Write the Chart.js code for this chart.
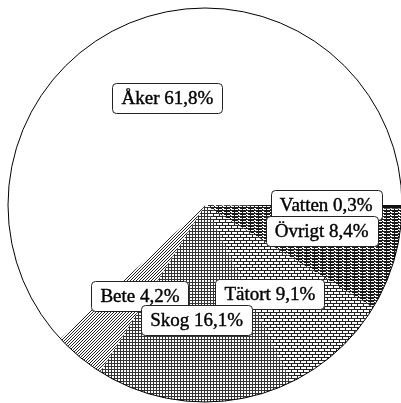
<!DOCTYPE html>
<html>
<head>
<meta charset="utf-8">
<script src="https://cdn.jsdelivr.net/npm/chart.js@4"></script>
<style>
  html, body { margin: 0; padding: 0; background: #fff; overflow: hidden; width: 401px; height: 403px; }
  #landChart { position: absolute; left: 0; top: 0; }
</style>
</head>
<body>
<canvas id="landChart" width="410" height="410"></canvas>
<script>
// Markanvändning, andel av total areal (%)
const categories = ['Vatten', 'Övrigt', 'Tätort', 'Skog', 'Bete', 'Åker'];
const shares = [0.3, 8.4, 9.1, 16.1, 4.2, 61.8];

// label nudges in px from the slice mid point, and the order they are painted
const labelShift = [[7, -1], [7, -6], [-12, 4], [-2, 1], [8, 3], [4, -1]];
const labelOrder = [5, 0, 1, 2, 4, 3];

const canvas = document.getElementById('landChart');
const ctx = canvas.getContext('2d');

// small repeating tiles to imitate the printed hatch fills
function tile(w, h, paint) {
    const c = document.createElement('canvas');
    c.width = w;
    c.height = h;
    const g = c.getContext('2d');
    g.fillStyle = '#fff';
    g.fillRect(0, 0, w, h);
    g.fillStyle = '#000';
    paint(g);
    return ctx.createPattern(c, 'repeat');
}

const fills = [
    '#111',
    // Övrigt: dense horizontal lines
    tile(8, 3, g => {
        g.fillStyle = '#1a1a1a';
        g.fillRect(0, 0, 8, 1);
        g.fillRect(0, 1, 6, 1);
        g.fillRect(2, 2, 1, 1);
        g.fillRect(6, 2, 1, 1);
    }),
    // Tätort: brick
    tile(6, 6, g => {
        g.fillStyle = '#222';
        g.fillRect(0, 0, 6, 1);
        g.fillRect(0, 1, 1, 2);
        g.fillRect(0, 3, 6, 1);
        g.fillRect(3, 4, 1, 2);
    }),
    // Skog: fine grid
    tile(3, 3, g => {
        g.fillStyle = '#333';
        g.fillRect(0, 0, 3, 1);
        g.fillRect(0, 0, 1, 3);
    }),
    // Bete: diagonal lines
    tile(3, 3, g => {
        g.fillStyle = '#222';
        g.fillRect(2, 0, 1, 1);
        g.fillRect(1, 1, 1, 1);
        g.fillRect(0, 2, 1, 1);
    }),
    '#fff'
];

const pieLabels = {
    id: 'pieLabels',
    afterDatasetsDraw(chart) {
        const c = chart.ctx;
        const arcs = chart.getDatasetMeta(0).data;
        const first = arcs[0].getProps(['x', 'y', 'outerRadius'], true);

        // outer rim
        c.save();
        c.beginPath();
        c.arc(first.x, first.y, first.outerRadius, 0, Math.PI * 2);
        c.lineWidth = 1;
        c.strokeStyle = '#000';
        c.stroke();

        c.font = '19px "Liberation Serif", "DejaVu Serif", serif';
        c.textAlign = 'center';
        c.textBaseline = 'middle';
        labelOrder.forEach(i => {
            const a = arcs[i].getProps(['x', 'y', 'startAngle', 'endAngle', 'outerRadius'], true);
            const mid = (a.startAngle + a.endAngle) / 2;
            const r = a.outerRadius * 0.58;
            const px = a.x + Math.cos(mid) * r + labelShift[i][0];
            const py = a.y + Math.sin(mid) * r + labelShift[i][1];
            const text = categories[i] + ' ' + shares[i].toFixed(1).replace('.', ',') + '%';
            const w = c.measureText(text).width + 18;
            const h = 30;
            c.beginPath();
            c.roundRect(Math.round(px - w / 2) + 0.5, Math.round(py - h / 2) + 0.5, Math.round(w), h, 4);
            c.fillStyle = '#fff';
            c.fill();
            c.lineWidth = 1;
            c.strokeStyle = '#222';
            c.stroke();
            // slightly heavier strokes, like the printed type
            c.fillStyle = '#000';
            c.lineWidth = 0.4;
            c.strokeStyle = '#000';
            c.fillText(text, px, py + 1);
            c.strokeText(text, px, py + 1);
        });
        c.restore();
    }
};

new Chart(canvas, {
    type: 'pie',
    data: {
        labels: categories,
        datasets: [{
            data: shares,
            backgroundColor: fills,
            borderWidth: 0
        }]
    },
    options: {
        responsive: false,
        animation: false,
        rotation: 90,
        layout: { padding: 8 },
        plugins: {
            legend: { display: false },
            tooltip: { enabled: false }
        }
    },
    plugins: [pieLabels]
});
</script>
</body>
</html>
